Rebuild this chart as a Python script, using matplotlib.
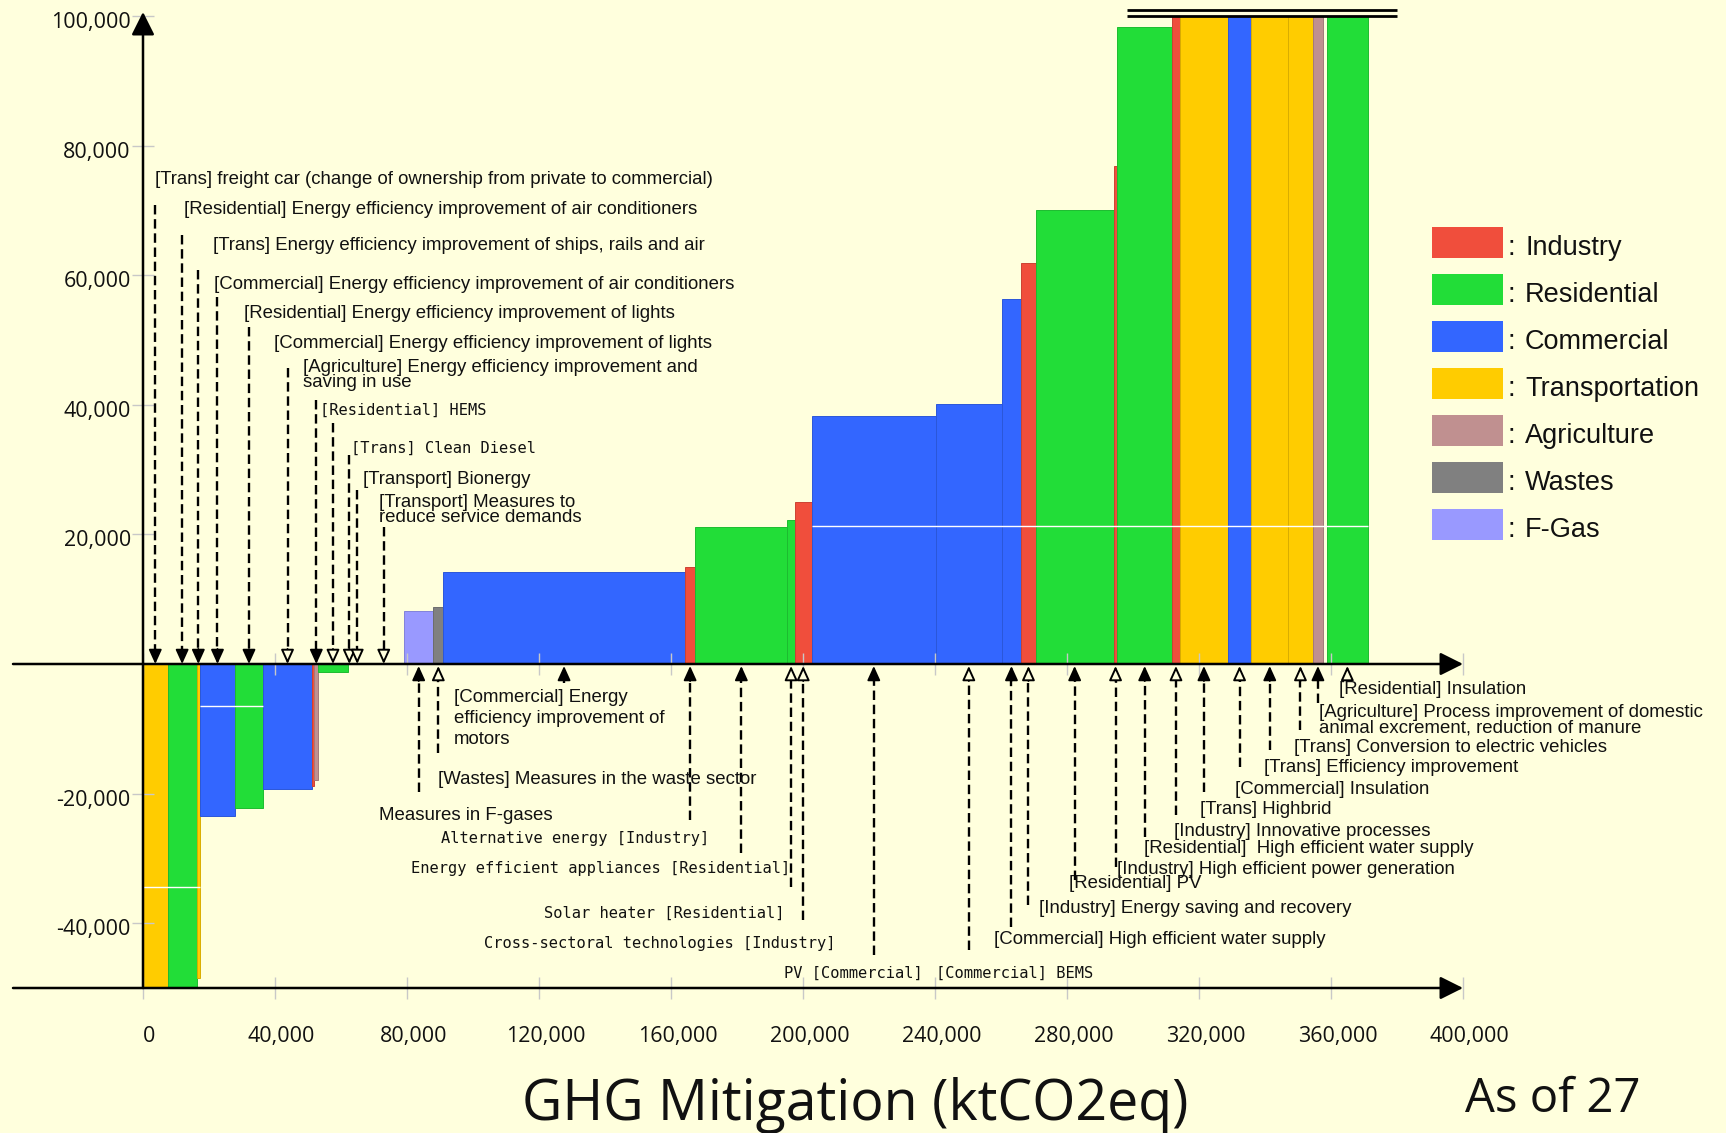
import numpy as np
import matplotlib
matplotlib.use("Agg")
import matplotlib.pyplot as plt
from matplotlib.patches import Rectangle
from matplotlib.colors import to_rgb
from matplotlib.transforms import ScaledTranslation

# ------------------------------------------------------------------ data
sectors = ["Industry", "Residential", "Commercial", "Transportation",
           "Agriculture", "Wastes", "F-Gas"]
sector_colors = ["#F04E3C", "#22DD38", "#3366FF", "#FFCC00",
                 "#C09090", "#808080", "#9999FF"]

measure_labels = [
    "[Trans] freight car (change of ownership from private to commercial)",
    "[Residential] Energy efficiency improvement of air conditioners",
    "[Trans] Energy efficiency improvement of ships, rails and air",
    "[Commercial] Energy efficiency improvement of air conditioners",
    "[Residential] Energy efficiency improvement of lights",
    "[Commercial] Energy efficiency improvement of lights",
    None,
    "[Agriculture] Energy efficiency improvement and\nsaving in use",
    "[Residential] HEMS",
    "[Trans] Clean Diesel",
    "[Transport] Bionergy",
    "[Transport] Measures to\nreduce service demands",
    "Measures in F-gases",
    "[Wastes] Measures in the waste sector",
    "[Commercial] Energy\nefficiency improvement of\nmotors",
    "Alternative energy [Industry]",
    "Energy efficient appliances [Residential]",
    "Solar heater [Residential]",
    "Cross-sectoral technologies [Industry]",
    "PV [Commercial]",
    "[Commercial] BEMS",
    "[Commercial] High efficient water supply",
    "[Industry] Energy saving and recovery",
    "[Residential] PV",
    "[Industry] High efficient power generation",
    "[Residential]  High efficient water supply",
    "[Industry] Innovative processes",
    "[Trans] Highbrid",
    "[Commercial] Insulation",
    "[Trans] Efficiency improvement",
    "[Trans] Conversion to electric vehicles",
    "[Agriculture] Process improvement of domestic\nanimal excrement, reduction of manure",
    None,
    "[Residential] Insulation",
]
measure_sectors = [
    "Transportation", "Residential", "Transportation", "Commercial",
    "Residential", "Commercial", "Industry", "Agriculture", "Residential",
    "Transportation", "Transportation", "Transportation",
    "F-Gas", "Wastes", "Commercial", "Industry", "Residential", "Residential",
    "Industry", "Commercial", "Commercial", "Commercial", "Industry",
    "Residential", "Industry", "Residential", "Industry", "Transportation",
    "Commercial", "Transportation", "Transportation", "Agriculture",
    None, "Residential",
]
# mitigation potential of each measure (ktCO2eq) = bar width
measure_widths = [
    7450, 8820, 1000, 10600, 8500, 14850, 700, 1200, 8900, 1000, 3800, 12270,
    8900, 3000, 73200, 3200, 27850, 2300, 5060, 37700, 19900, 5940, 4360,
    23640, 1150, 16500, 2450, 14500, 7100, 11200, 7400, 3200, 1150, 12330,
]
# cost of each measure = bar height (shown clipped at the chart's -50,000 / 100,000 limits)
measure_costs = [
    -50000, -50000, -48400, -23400, -22200, -19300, -18800, -17900, -1300,
    0, 0, 0,
    8200, 8750, 14130, 14970, 21170, 22200, 24970, 38270, 40050, 56310,
    61820, 70090, 76850, 98330, 100000, 100000, 100000, 100000, 100000,
    100000, 0, 100000,
]

x_ticks = [0, 40000, 80000, 120000, 160000, 200000, 240000, 280000,
           320000, 360000, 400000]
y_ticks = [-40000, -20000, 20000, 40000, 60000, 80000, 100000]
y_floor = -50000
y_cap = 100000

title_text = "GHG Mitigation (ktCO2eq)"
note_text = "As of 27"

# ------------------------------------------------------------------ layout
W, H = 1726, 1133
X0_PX, X_SCALE = 143.0, 0.0033     # pixel of x=0, pixels per ktCO2eq
Y0_PX, Y_SCALE = 664.0, 0.00648    # pixel of y=0, pixels per unit


def dx(px):
    return (px - X0_PX) / X_SCALE


def dy(py):
    return (Y0_PX - py) / Y_SCALE


# label placement (reference pixels): left x, centre y, end of dashed leader,
# open arrow head?, mono font?, line spacing
label_layout = {
    0: (154.5, 179.3, 205, False, False, 1.0),
    1: (183.9, 209.0, 235, False, False, 1.0),
    2: (213.0, 246.0, 270, False, False, 1.0),
    3: (214.3, 284.3, 297, False, False, 1.0),
    4: (243.8, 313.3, 327, False, False, 1.0),
    5: (274.0, 344.0, 368, True, False, 1.0),
    7: (303.0, 375.0, 400, False, False, 0.9),
    8: (320.0, 410.0, 423, True, True, 1.0),
    9: (351.0, 448.3, 455, True, True, 1.0),
    10: (363.4, 479.3, 490, True, False, 1.0),
    11: (379.0, 510.3, 527, True, False, 0.85),
    12: (379.0, 815.0, 792, False, False, 1.0),
    13: (438.3, 779.0, 753, True, False, 1.0),
    14: (453.6, 718.5, 683, False, False, 1.27),
    15: (440.8, 839.0, 820, False, True, 1.0),
    16: (411.2, 868.3, 853, False, True, 1.0),
    17: (543.9, 913.3, 887, True, True, 1.0),
    18: (484.2, 943.3, 920, True, True, 1.0),
    19: (783.7, 973.3, 955, False, True, 1.0),
    20: (935.7, 973.3, 950, True, True, 1.0),
    21: (993.6, 940.0, 927, False, False, 1.0),
    22: (1039.1, 908.3, 905, True, False, 1.0),
    23: (1068.8, 883.3, 880, False, False, 1.0),
    24: (1117.3, 869.3, 867, True, False, 1.0),
    25: (1144.0, 848.3, 837, False, False, 1.0),
    26: (1173.8, 831.0, 815, True, False, 1.0),
    27: (1200.0, 809.3, 792, False, False, 1.0),
    28: (1234.7, 790.0, 767, True, False, 1.0),
    29: (1264.4, 767.3, 750, False, False, 1.0),
    30: (1294.0, 747.3, 730, True, False, 1.0),
    31: (1319.3, 720.5, 703, False, False, 0.9),
    33: (1339.1, 689.3, 677, True, False, 1.0),
}

BG = "#FFFFDD"
plt.rcParams["font.family"] = ["Liberation Sans", "DejaVu Sans"]

fig = plt.figure(figsize=(W / 100, H / 100), dpi=100, facecolor=BG)
ax = fig.add_axes([0, 0, 1, 1])
ax.set_facecolor(BG)
ax.set_xlim(dx(0), dx(W))
ax.set_ylim(dy(H), dy(0))

# ------------------------------------------------------------------ bars
widths = np.array(measure_widths, dtype=float)
costs = np.array(measure_costs, dtype=float)
lefts = np.concatenate([[0.0], np.cumsum(widths)[:-1]])
centers = lefts + widths / 2
cmap = dict(zip(sectors, sector_colors))
face = [cmap[s] if s else (0, 0, 0, 0) for s in measure_sectors]
edge = [tuple(np.array(to_rgb(cmap[s])) * 0.85) if s else (0, 0, 0, 0)
        for s in measure_sectors]
ax.bar(lefts, np.clip(costs, y_floor, y_cap), width=widths, align="edge",
       color=face, edgecolor=edge, linewidth=0.7, zorder=1)

# faint seams visible in the original picture
ax.hlines([21300, -6480, -34370],
          [lefts[19], lefts[3], 0],
          [lefts[-1] + widths[-1], lefts[5], lefts[3]],
          colors="white", linewidth=1.0, zorder=1.2)

# ------------------------------------------------------------------ axes
for s in ax.spines.values():
    s.set_visible(False)
ax.spines["left"].set_position(("data", 0))
ax.spines["bottom"].set_position(("data", y_floor))
ax.set_xticks(x_ticks)
ax.set_xticklabels([f"{v:,}" for v in x_ticks])
ax.set_yticks(y_ticks)
ax.set_yticklabels([f"{v:,}" for v in y_ticks])
ax.tick_params(axis="both", direction="inout", length=16.5, width=1.0,
               color="#C8C8C8", labelsize=15.5, labelfontfamily="Open Sans",
               labelcolor="#111111")
ax.tick_params(axis="y", pad=0.5)
ax.tick_params(axis="x", pad=19)
for lbl in ax.get_xticklabels():
    lbl.set_transform(lbl.get_transform() +
                      ScaledTranslation(6.5 / 100, 0, fig.dpi_scale_trans))
for lbl in ax.get_yticklabels():
    lbl.set_transform(lbl.get_transform() +
                      ScaledTranslation(0, -4 / 100, fig.dpi_scale_trans))
# tick marks also crossing the zero line
ax.vlines(x_ticks, dy(Y0_PX + 11), dy(Y0_PX - 11), colors="#C8C8C8",
          linewidth=1.0, zorder=1.5)

axis_arrow = dict(arrowstyle="-|>,head_length=14,head_width=7",
                  mutation_scale=1, lw=1.8, color="black",
                  shrinkA=0, shrinkB=0)
x_start = dx(13)
ax.annotate("", xy=(x_ticks[-1], 0), xytext=(x_start, 0),
            arrowprops=axis_arrow, annotation_clip=False, zorder=6)
ax.annotate("", xy=(x_ticks[-1], y_floor), xytext=(x_start, y_floor),
            arrowprops=axis_arrow, annotation_clip=False, zorder=6)
ax.annotate("", xy=(0, dy(12)), xytext=(0, y_floor),
            arrowprops=axis_arrow, annotation_clip=False, zorder=6)

# broken-axis marks above the clipped bars
ax.hlines([y_cap, y_cap + 880], dx(1127), dx(1397), colors="black",
          linewidth=2.0, zorder=6)

# ------------------------------------------------------------------ labels + leaders
head = "-|>,head_length=8.6,head_width=3.9"
for i, (lx, ly, lend, is_open, mono, lsp) in label_layout.items():
    x = centers[i]
    top = ly < Y0_PX
    sgn = -1 if top else 1          # pixel direction from tip to leader start
    tip_px = Y0_PX + (0 if top else 2)
    base_px = tip_px + sgn * 15
    ax.plot([x, x], [dy(lend), dy(base_px)], color="black", lw=1.7,
            linestyle=(0, (4, 2)), zorder=7, solid_capstyle="butt")
    ax.annotate("", xy=(x, dy(tip_px)), xytext=(x, dy(base_px)),
                arrowprops=dict(arrowstyle=head, mutation_scale=1, lw=1.4,
                                ec="black", fc=BG if is_open else "black",
                                shrinkA=0, shrinkB=0),
                zorder=8)
    if mono:
        ax.text(dx(lx), dy(ly), measure_labels[i], ha="left", va="center",
                fontsize=11.1, family="DejaVu Sans Mono", color="#111111",
                zorder=9)
    else:
        ax.text(dx(lx), dy(ly), measure_labels[i], ha="left", va="center",
                fontsize=13.4, color="#111111", linespacing=lsp, zorder=9)

# ------------------------------------------------------------------ legend (key)
key_left, key_right = 1432, 1502.7
key_top0, key_pitch, key_h = 226.7, 47.05, 31.0
for k, (name, col) in enumerate(zip(sectors, sector_colors)):
    top_px = key_top0 + k * key_pitch
    ax.add_patch(Rectangle((dx(key_left), dy(top_px + key_h)),
                           dx(key_right) - dx(key_left),
                           dy(top_px) - dy(top_px + key_h),
                           facecolor=col, edgecolor="none", zorder=5))
    ax.text(dx(1507.3), dy(top_px + 28.3), ":", ha="left", va="baseline",
            fontsize=19.5, color="#111111")
    ax.text(dx(1525), dy(top_px + 28.3), name, ha="left", va="baseline",
            fontsize=19.5, color="#111111")

# ------------------------------------------------------------------ titles
ax.text(dx(855.5), dy(1120), title_text, ha="center", va="baseline",
        fontsize=40, family="Open Sans", color="#111111")
ax.text(dx(1465), dy(1111.7), note_text, ha="left", va="baseline",
        fontsize=34, family="Open Sans", color="#111111")

fig.savefig("out.png", dpi=100, facecolor=BG)
